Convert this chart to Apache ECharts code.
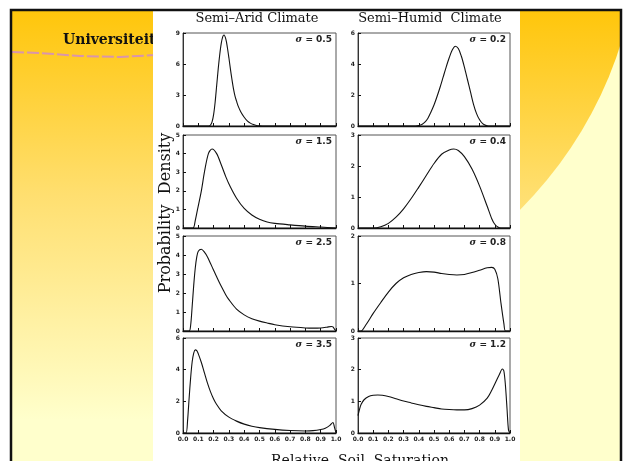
<!DOCTYPE html>
<html>
<head>
<meta charset="utf-8">
<title>Relative soil saturation pdf</title>
<script src="https://cdn.jsdelivr.net/npm/echarts@6/dist/echarts.min.js"></script>
<style>
  html, body { margin: 0; padding: 0; background: #fff; }
  #main { width: 623px; height: 461px; }
</style>
</head>
<body>
<div id="main"></div>
<script>
// panel labels and axis scales
var sigmaArid = ['0.5', '1.5', '2.5', '3.5']
var sigmaHumid = ['0.2', '0.4', '0.8', '1.2']
var yMaxArid = [9, 5, 5, 6]
var yStepArid = [3, 1, 1, 2]
var yMaxHumid = [6, 3, 2, 3]
var yStepHumid = [2, 1, 1, 1]
var xTicks = ['0.0', '0.1', '0.2', '0.3', '0.4', '0.5', '0.6', '0.7', '0.8', '0.9', '1.0']

// semi-arid curves [s, p(s)]
var arid05 = [[0, 0], [0.17, 0], [0.18, 0.1], [0.19, 0.4], [0.20, 1.1], [0.21, 2.3], [0.22, 3.9], [0.23, 5.5], [0.24, 6.9], [0.25, 8.0], [0.26, 8.65], [0.268, 8.8], [0.28, 8.4], [0.29, 7.6], [0.30, 6.6], [0.31, 5.5], [0.32, 4.5], [0.33, 3.6], [0.34, 2.9], [0.35, 2.4], [0.36, 1.95], [0.38, 1.3], [0.40, 0.85], [0.42, 0.5], [0.44, 0.28], [0.46, 0.14], [0.48, 0.05], [0.50, 0.01], [0.52, 0], [1, 0]]
var arid15 = [[0, 0], [0.065, 0], [0.08, 0.4], [0.095, 1.0], [0.12, 2.0], [0.14, 3.0], [0.166, 4.0], [0.19, 4.25], [0.22, 4.0], [0.25, 3.4], [0.28, 2.75], [0.31, 2.2], [0.35, 1.6], [0.40, 1.05], [0.45, 0.7], [0.50, 0.47], [0.55, 0.32], [0.60, 0.25], [0.70, 0.17], [0.80, 0.1], [0.90, 0.05], [1, 0]]
var arid25 = [[0, 0], [0.04, 0], [0.05, 0.3], [0.06, 1.3], [0.07, 2.4], [0.08, 3.3], [0.09, 3.9], [0.10, 4.2], [0.12, 4.3], [0.14, 4.15], [0.16, 3.9], [0.18, 3.55], [0.20, 3.2], [0.22, 2.85], [0.25, 2.35], [0.28, 1.9], [0.30, 1.65], [0.35, 1.15], [0.40, 0.85], [0.45, 0.65], [0.50, 0.52], [0.55, 0.42], [0.60, 0.33], [0.70, 0.22], [0.80, 0.16], [0.85, 0.15], [0.90, 0.16], [0.94, 0.2], [0.97, 0.24], [0.98, 0.22], [0.99, 0.1], [1, 0]]
var arid35 = [[0, 0], [0.02, 0], [0.03, 0.8], [0.04, 2.2], [0.05, 3.5], [0.06, 4.5], [0.07, 5.05], [0.08, 5.25], [0.09, 5.2], [0.10, 5.0], [0.12, 4.45], [0.14, 3.8], [0.16, 3.15], [0.18, 2.6], [0.20, 2.15], [0.22, 1.8], [0.25, 1.4], [0.30, 1.0], [0.35, 0.75], [0.40, 0.56], [0.45, 0.43], [0.50, 0.34], [0.60, 0.23], [0.70, 0.16], [0.80, 0.13], [0.85, 0.15], [0.90, 0.22], [0.93, 0.3], [0.96, 0.48], [0.98, 0.66], [0.99, 0.35], [1, 0]]

// semi-humid curves
var humid02 = [[0, 0], [0.38, 0], [0.40, 0.03], [0.42, 0.1], [0.44, 0.25], [0.46, 0.5], [0.48, 0.9], [0.50, 1.35], [0.52, 1.9], [0.54, 2.5], [0.56, 3.15], [0.58, 3.8], [0.60, 4.4], [0.62, 4.9], [0.64, 5.15], [0.66, 5.0], [0.68, 4.5], [0.70, 3.8], [0.72, 3.0], [0.74, 2.2], [0.76, 1.4], [0.78, 0.8], [0.80, 0.4], [0.82, 0.15], [0.84, 0.04], [0.86, 0], [1, 0]]
var humid04 = [[0, 0], [0.10, 0], [0.15, 0.04], [0.20, 0.15], [0.25, 0.35], [0.30, 0.62], [0.35, 0.95], [0.40, 1.32], [0.45, 1.7], [0.50, 2.08], [0.55, 2.38], [0.60, 2.52], [0.63, 2.55], [0.66, 2.5], [0.70, 2.3], [0.75, 1.9], [0.80, 1.35], [0.85, 0.7], [0.88, 0.3], [0.90, 0.12], [0.92, 0.03], [0.94, 0], [1, 0]]
var humid08 = [[0, 0], [0.02, 0], [0.05, 0.12], [0.10, 0.37], [0.15, 0.6], [0.20, 0.82], [0.25, 1.0], [0.30, 1.12], [0.35, 1.19], [0.40, 1.23], [0.45, 1.25], [0.50, 1.24], [0.55, 1.21], [0.60, 1.19], [0.65, 1.18], [0.70, 1.19], [0.75, 1.23], [0.80, 1.28], [0.85, 1.33], [0.88, 1.34], [0.90, 1.3], [0.92, 1.1], [0.94, 0.6], [0.96, 0.15], [0.97, 0], [1, 0]]
var humid12 = [[0, 0.55], [0.01, 0.75], [0.02, 0.9], [0.04, 1.05], [0.07, 1.15], [0.10, 1.19], [0.13, 1.2], [0.16, 1.19], [0.20, 1.15], [0.25, 1.08], [0.30, 1.01], [0.35, 0.95], [0.40, 0.89], [0.45, 0.84], [0.50, 0.8], [0.55, 0.76], [0.60, 0.74], [0.65, 0.73], [0.70, 0.73], [0.75, 0.77], [0.80, 0.88], [0.85, 1.1], [0.88, 1.35], [0.91, 1.65], [0.93, 1.85], [0.95, 2.02], [0.96, 1.95], [0.97, 1.5], [0.98, 0.8], [0.99, 0.1], [1, 0]]

var chart = echarts.init(document.getElementById('main'))

var colLeft = [183, 358]
var colWidth = [153, 152]
var rowTop = [33, 135, 236, 338]
var rowHeight = [93, 93, 95, 95]

var columns = [
  { curves: [arid05, arid15, arid25, arid35], sigma: sigmaArid, yMax: yMaxArid, yStep: yStepArid },
  { curves: [humid02, humid04, humid08, humid12], sigma: sigmaHumid, yMax: yMaxHumid, yStep: yStepHumid }
]

var grids = []
var xAxes = []
var yAxes = []
var series = []
var labels = []

columns.forEach(function (col, c) {
  col.curves.forEach(function (curve, r) {
    var i = grids.length
    grids.push({
      left: colLeft[c],
      top: rowTop[r],
      width: colWidth[c],
      height: rowHeight[r],
      show: true,
      borderColor: '#555',
      borderWidth: 1,
      backgroundColor: 'transparent'
    })
    xAxes.push({
      gridIndex: i,
      type: 'value',
      min: 0,
      max: 1,
      interval: 0.1,
      axisLine: { show: true, onZero: false, lineStyle: { color: '#111', width: 1.3 } },
      axisTick: { show: true, inside: true, length: 3, lineStyle: { color: '#111' } },
      axisLabel: {
        show: r === 3,
        fontSize: 6,
        fontWeight: 'bold',
        fontFamily: 'DejaVu Sans',
        color: '#222',
        margin: 3,
        formatter: function (v, idx) { return xTicks[idx] }
      },
      splitLine: { show: false }
    })
    yAxes.push({
      gridIndex: i,
      type: 'value',
      min: 0,
      max: col.yMax[r],
      interval: col.yStep[r],
      axisLine: { show: true, lineStyle: { color: '#333' } },
      axisTick: { show: true, inside: true, length: 3, lineStyle: { color: '#111' } },
      axisLabel: { fontSize: 6, fontWeight: 'bold', fontFamily: 'DejaVu Sans', color: '#222', margin: 3 },
      splitLine: { show: false }
    })
    series.push({
      type: 'line',
      xAxisIndex: i,
      yAxisIndex: i,
      data: curve,
      showSymbol: false,
      smooth: 0.3,
      lineStyle: { color: '#111', width: 1.1 },
      silent: true
    })
    labels.push({
      type: 'text',
      z: 50,
      style: {
        x: colLeft[c] + colWidth[c] - 4,
        y: rowTop[r] + 7,
        text: '{s|σ} = ' + col.sigma[r],
        align: 'right',
        verticalAlign: 'middle',
        fontSize: 9,
        fontWeight: 'bold',
        fontFamily: 'DejaVu Sans',
        fill: '#222',
        rich: { s: { fontStyle: 'italic', fontSize: 9, fontWeight: 'bold', fontFamily: 'DejaVu Serif' } }
      }
    })
  })
})

// same gradient used for the slide and the big arc, so the arc only shows on the right
function slideFill() {
  return new echarts.graphic.LinearGradient(0, 12, 0, 420, [
    { offset: 0, color: '#FFC60C' },
    { offset: 0.45, color: '#FFDF70' },
    { offset: 1, color: '#FFFFCC' }
  ], true)
}

var decor = [
  { type: 'rect', z: -100, shape: { x: 0, y: 0, width: 623, height: 461 }, style: { fill: '#fff' } },
  { type: 'rect', z: -99, shape: { x: 11, y: 10, width: 611, height: 460 }, style: { fill: slideFill() } },
  { type: 'rect', z: -99, shape: { x: 500, y: 10, width: 122, height: 460 }, style: { fill: '#FFFFCC' } },
  { type: 'circle', z: -98, shape: { cx: 230, cy: -80, r: 410 }, style: { fill: slideFill() } },
  { type: 'rect', z: -97, shape: { x: 0, y: 0, width: 623, height: 10 }, style: { fill: '#fff' } },
  { type: 'rect', z: -97, shape: { x: 0, y: 0, width: 10, height: 461 }, style: { fill: '#fff' } },
  { type: 'rect', z: -97, shape: { x: 621, y: 0, width: 2, height: 461 }, style: { fill: '#fff' } },
  {
    type: 'polyline', z: -96,
    shape: { points: [[12, 52], [40, 53], [80, 56], [120, 57], [155, 55]] },
    style: { stroke: '#D995AC', lineWidth: 2, lineDash: [12, 3], fill: null }
  },
  {
    type: 'text', z: -96,
    style: {
      x: 63, y: 40, text: 'Universiteit', verticalAlign: 'middle',
      fontSize: 14, fontWeight: 'bold', fontFamily: 'DejaVu Serif', fill: '#111',
      textShadowColor: '#888', textShadowOffsetX: 1, textShadowOffsetY: 1, textShadowBlur: 0
    }
  },
  { type: 'rect', z: -95, shape: { x: 153, y: 10, width: 367, height: 451 }, style: { fill: '#fff' } },
  { type: 'rect', z: -94, shape: { x: 11, y: 10, width: 610, height: 460 }, style: { fill: null, stroke: '#111', lineWidth: 2.5 } },
  {
    type: 'text', z: 50,
    style: { x: 257, y: 19, text: 'Semi\u2013Arid Climate', align: 'center', verticalAlign: 'middle', fontSize: 13, fontFamily: 'DejaVu Serif', fill: '#111' }
  },
  {
    type: 'text', z: 50,
    style: { x: 430, y: 19, text: 'Semi\u2013Humid  Climate', align: 'center', verticalAlign: 'middle', fontSize: 13, fontFamily: 'DejaVu Serif', fill: '#111' }
  },
  {
    type: 'text', z: 50, x: 166, y: 213, rotation: Math.PI / 2,
    style: { x: 0, y: 0, text: 'Probability  Density', align: 'center', verticalAlign: 'middle', fontSize: 16, fontFamily: 'DejaVu Serif', fill: '#111' }
  },
  {
    type: 'text', z: 50,
    style: { x: 360, y: 461, text: 'Relative  Soil  Saturation', align: 'center', verticalAlign: 'middle', fontSize: 14, fontFamily: 'DejaVu Serif', fill: '#111' }
  }
]

chart.setOption({
  animation: false,
  grid: grids,
  xAxis: xAxes,
  yAxis: yAxes,
  series: series,
  graphic: decor.concat(labels)
})
</script>
</body>
</html>
